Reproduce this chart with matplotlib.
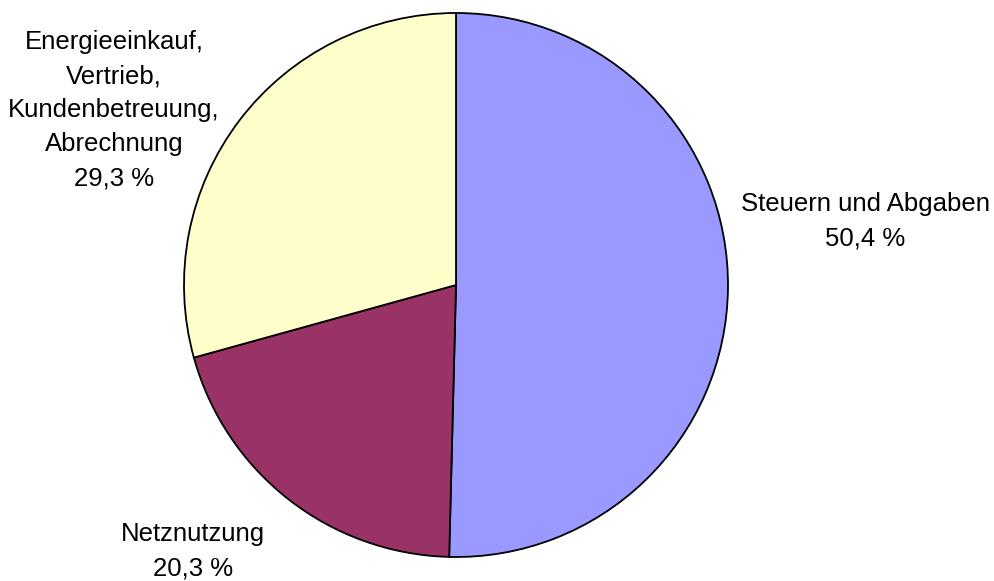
import matplotlib
matplotlib.use("Agg")
import matplotlib.pyplot as plt

# Cost shares of the electricity price (percent)
labels = ["Steuern und Abgaben", "Netznutzung",
          "Energieeinkauf,\nVertrieb,\nKundenbetreuung,\nAbrechnung"]
shares = [50.4, 20.3, 29.3]
colors = ["#9999FF", "#993366", "#FFFFCC"]
# label anchor points in data units (pie radius = 1)
label_xy = [(1.504, 0.235), (-0.967, -0.978), (-1.257, 0.643)]

plt.rcParams["font.family"] = ["Liberation Sans", "DejaVu Sans"]

W, H = 995, 581
fig = plt.figure(figsize=(W / 100, H / 100), dpi=100, facecolor="white")
cx, cy, r = 456, 285, 272
ax = fig.add_axes([(cx - r) / W, 1 - (cy + r) / H, 2 * r / W, 2 * r / H])

ax.pie(shares, colors=colors, startangle=90, counterclock=False, radius=1,
       wedgeprops={"edgecolor": "black", "linewidth": 1.3})
ax.set_xlim(-1, 1)
ax.set_ylim(-1, 1)
ax.set_aspect("equal")
ax.axis("off")

for lab, val, (x, y) in zip(labels, shares, label_xy):
    txt = "{}\n{} %".format(lab, ("%.1f" % val).replace(".", ","))
    ax.text(x, y, txt, ha="center", va="center", multialignment="center",
            fontsize=18.5, linespacing=1.53, clip_on=False)

fig.savefig("out.png", dpi=100, facecolor="white")
